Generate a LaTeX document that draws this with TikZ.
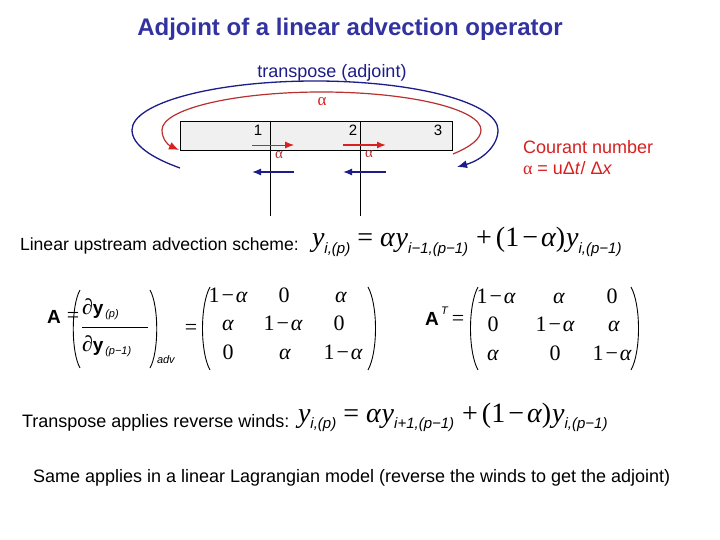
\documentclass[tikz,border=0pt]{standalone}
\usepackage{fontspec}
\setmainfont{Liberation Sans}
\newfontfamily\tms{Liberation Serif}
\usetikzlibrary{arrows.meta}
\definecolor{titleblue}{HTML}{3232A0}
\definecolor{navy}{HTML}{1C1C8A}
\definecolor{cred}{HTML}{D82020}
\definecolor{darkred}{HTML}{B83030}
\definecolor{boxgray}{HTML}{F0F0F0}
\newcommand{\sbs}[1]{\raisebox{-0.22em}{\rmfamily\fontsize{15}{15}\selectfont\itshape #1}}
\newcommand{\eqA}[1]{{\tms\fontsize{28}{30}\selectfont%
  {\itshape y}\sbs{i,(p)}\hspace{7pt}=\hspace{7pt}{\itshape α\kern1pt y}\sbs{#1,(p−1)}\hspace{8pt}+\hspace{4pt}(1\hspace{3pt}−\hspace{3pt}{\itshape α})\hspace{1pt}{\itshape y}\sbs{i,(p−1)}}}
\newcommand{\oma}{1\hspace{2pt}−\hspace{2pt}{\itshape α}}
\begin{document}
\begin{tikzpicture}[x=1pt,y=-1pt,
  every node/.style={inner sep=0pt, outer sep=0pt},
  body/.style={font=\fontsize{18}{21}\selectfont},
  ent/.style={anchor=base, font=\tms\fontsize{22}{24}\selectfont},
  eqsign/.style={font=\tms\fontsize{22}{24}\selectfont},
  paren/.style={line width=0.9pt},
  bluearrow/.style={navy, line width=1.3pt, -{Latex[length=9pt,width=7pt]}},
  redarrow/.style={cred, -{Latex[length=9pt,width=7pt]}}]
\useasboundingbox (0,0) rectangle (720,540);
\fill[white] (0,0) rectangle (720,540);

% title
\node[anchor=base, text=titleblue, font=\fontsize{24}{28}\selectfont\bfseries] (title) at (350,36) {Adjoint of a linear advection operator};

% grid box
\node[draw, fill=boxgray, line width=0.8pt, minimum width=272pt, minimum height=29pt, anchor=north west] (box) at (180,121) {};
\coordinate (v1t) at (270.7,121); \coordinate (v1b) at (270.7,216);
\coordinate (v2t) at (360,121);   \coordinate (v2b) at (360,216);
\draw[line width=0.8pt] (v1t) -- (v1b);
\draw[line width=0.8pt] (v2t) -- (v2b);
\node[anchor=base, font=\fontsize{15}{18}\selectfont] (n1) at (258,136) {1};
\node[anchor=base, font=\fontsize{15}{18}\selectfont] (n2) at (353,136) {2};
\node[anchor=base, font=\fontsize{15}{18}\selectfont] (n3) at (438,136) {3};

% wind arrows
\coordinate (r1a) at (252,145); \coordinate (r1b) at (294,145);
\coordinate (r2a) at (343,145); \coordinate (r2b) at (386,145);
\draw[redarrow, line width=0.8pt] (r1a) -- (r1b);
\draw[redarrow, line width=1.6pt] (r2a) -- (r2b);
\node[text=darkred, font=\tms\fontsize{15}{18}\selectfont] (al1) at (279,155) {α};
\node[text=darkred, font=\tms\fontsize{15}{18}\selectfont] (al2) at (369,154) {α};
\coordinate (b1a) at (294,172); \coordinate (b1b) at (252,172);
\coordinate (b2a) at (386,172); \coordinate (b2b) at (343,172);
\draw[bluearrow] (b1a) -- (b1b);
\draw[bluearrow] (b2a) -- (b2b);

% big arcs
\coordinate (redS) at (453,154); \coordinate (redE) at (179,150);
\draw[darkred, line width=1.2pt, -{Latex[length=10pt,width=8pt,color=cred]}]
  (redS) .. controls (470,147) and (481,139) .. (481,130)
  .. controls (481,109) and (409,92) .. (321.5,92)
  .. controls (234,92) and (162,109) .. (162,130)
  .. controls (162,139) and (168,145) .. (redE);
\node[text=cred, font=\tms\fontsize{17}{20}\selectfont] (atop) at (322,102) {α};

\coordinate (blueS) at (180,168); \coordinate (blueE) at (457,167);
\draw[navy, line width=1.3pt, -{Latex[length=10pt,width=8pt]}]
  (blueS) .. controls (152,158) and (132,145) .. (132,130)
  .. controls (132,103) and (214,81) .. (315,81)
  .. controls (416,81) and (498,103) .. (498,130)
  .. controls (498,146) and (482,160) .. (blueE);
\node[anchor=base, text=navy, body] (tr) at (332,78) {transpose (adjoint)};

% Courant
\node[anchor=base west, text=cred, body] (c1) at (523,154) {Courant number};
\node[anchor=base west, text=cred, body] (c2) at (523,175) {{\tms α} = uΔ\textit{t}/ Δ\textit{x}};

% scheme
\node[anchor=base west, font=\fontsize{17.6}{21}\selectfont] (l1) at (20,250) {Linear upstream advection scheme:};
\node[anchor=base west] (eq1) at (312,247) {\eqA{i−1}};

% A matrix
\node[anchor=base west, font=\fontsize{19}{20}\selectfont\bfseries] (A) at (47,323) {A};
\node[eqsign] (e1) at (73,317) {=};
\draw[paren] (80,290) .. controls (71,306) and (71,352) .. (80,368);
\draw[paren] (150,290) .. controls (159,306) and (159,352) .. (150,368);
\coordinate (fl) at (82,327); \coordinate (fr) at (148,327);
\draw[line width=0.8pt] (fl) -- (fr);
\node[anchor=base west] (num) at (82,314) {{\tms\fontsize{22}{24}\selectfont ∂}{\fontsize{19}{20}\selectfont\bfseries y}\raisebox{-3pt}{\fontsize{11}{12}\selectfont\itshape\,(p)}};
\node[anchor=base west] (den) at (82,351) {{\tms\fontsize{22}{24}\selectfont ∂}{\fontsize{19}{20}\selectfont\bfseries y}\raisebox{-3pt}{\fontsize{11}{12}\selectfont\itshape\,(p−1)}};
\node[anchor=base west, font=\fontsize{11}{12}\selectfont\itshape] (adv) at (157,363) {adv};
\node[eqsign] (e2) at (191,329) {=};
\draw[paren] (210,287) .. controls (200,305) and (200,352) .. (210,370);
\draw[paren] (368,287) .. controls (378,305) and (378,352) .. (368,370);
\node[ent] (a11) at (228,302) {\oma};
\node[ent] (a12) at (284,302) {0};
\node[ent] (a13) at (341,302) {\itshape α};
\node[ent] (a21) at (228,330) {\itshape α};
\node[ent] (a22) at (283,330) {\oma};
\node[ent] (a23) at (339,330) {0};
\node[ent] (a31) at (228,359) {0};
\node[ent] (a32) at (285,359) {\itshape α};
\node[ent] (a33) at (343,359) {\oma};

% A^T matrix
\node[anchor=base west, font=\fontsize{19}{20}\selectfont\bfseries] (AT) at (425,325) {A};
\node[anchor=base west, font=\fontsize{11}{12}\selectfont\itshape] (T) at (441,314) {T};
\node[eqsign] (e3) at (458,320) {=};
\draw[paren] (478,287) .. controls (468,305) and (468,352) .. (478,370);
\draw[paren] (631,287) .. controls (641,305) and (641,352) .. (631,370);
\node[ent] (b11) at (496,303) {\oma};
\node[ent] (b12) at (559,303) {\itshape α};
\node[ent] (b13) at (612,303) {0};
\node[ent] (b21) at (493,331) {0};
\node[ent] (b22) at (555,331) {\oma};
\node[ent] (b23) at (614,331) {\itshape α};
\node[ent] (b31) at (493,360) {\itshape α};
\node[ent] (b32) at (555,360) {0};
\node[ent] (b33) at (612,360) {\oma};

% transpose
\node[anchor=base west, body] (l2) at (22,427) {Transpose applies reverse winds:};
\node[anchor=base west] (eq2) at (298,422) {\eqA{i+1}};

\node[anchor=base west, body] (l3) at (33,482) {Same applies in a linear Lagrangian model (reverse the winds to get the adjoint)};
\end{tikzpicture}
\end{document}
